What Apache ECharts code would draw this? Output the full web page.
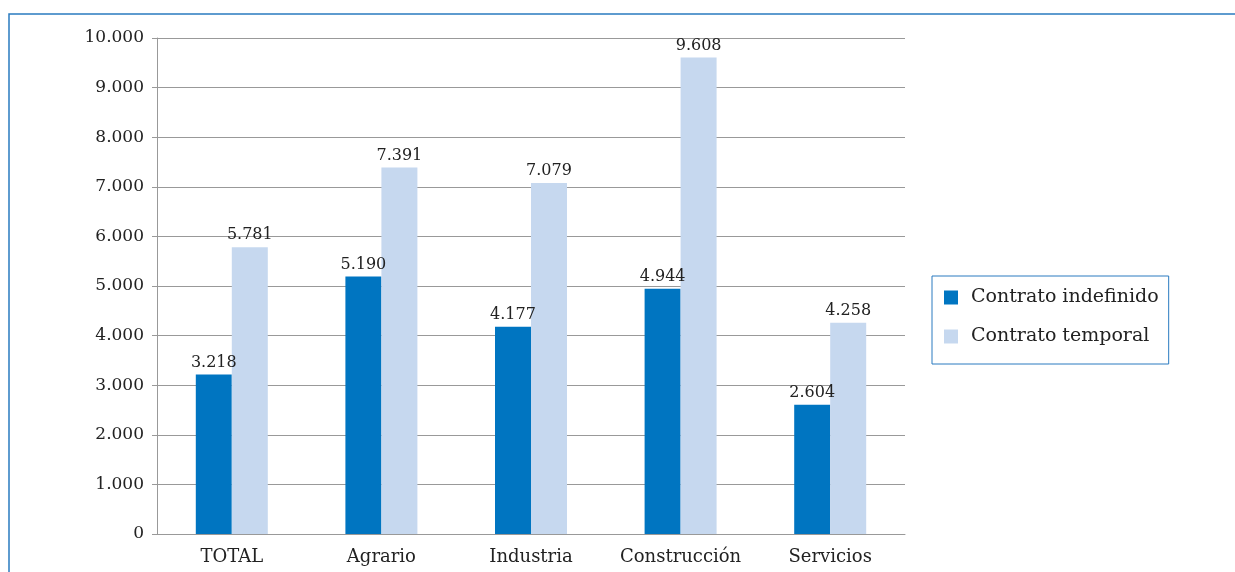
<!DOCTYPE html>
<html><head><meta charset="utf-8">
<script src="https://cdn.jsdelivr.net/npm/echarts@6/dist/echarts.min.js"></script>
<style>html,body{margin:0;padding:0;background:#fff}#c{width:1235px;height:572px}</style>
</head><body><div id="c"></div>
<script>
var categories = ['TOTAL','Agrario','Industria','Construcción','Servicios'];
var indefinido = [3218, 5190, 4177, 4944, 2604];
var temporal = [5781, 7391, 7079, 9608, 4258];
var seriesNames = ['Contrato indefinido','Contrato temporal'];
var yTicks = [0,1000,2000,3000,4000,5000,6000,7000,8000,9000,10000];

var FONT = 'DejaVu Serif';
function fmt(v){ return String(v).replace(/\B(?=(\d{3})+(?!\d))/g,'.'); }
var chart = echarts.init(document.getElementById('c'));
chart.setOption({
  animation:false,
  textStyle:{fontFamily:FONT},
  graphic:[{type:'rect',shape:{x:9,y:14,width:1300,height:700},style:{fill:'none',stroke:'#2a7bc0',lineWidth:1.5},silent:true}],
  grid:{left:157,right:330,top:38,bottom:38,containLabel:false},
  legend:{orient:'vertical',left:932,top:276,padding:[12,10,18,12],itemGap:20,itemWidth:14,itemHeight:14,
    borderColor:'#2a7bc0',borderWidth:1,icon:'rect',
    textStyle:{fontFamily:FONT,fontSize:19,color:'#222',padding:[0,0,0,8]}, data:seriesNames},
  xAxis:{type:'category',data:categories,axisTick:{show:false},
    axisLine:{lineStyle:{color:'#999',width:1}},
    axisLabel:{interval:0,fontFamily:FONT,fontSize:18,color:'#222',margin:14}},
  yAxis:{type:'value',min:yTicks[0],max:yTicks[yTicks.length-1],interval:1000,
    axisLine:{show:true,lineStyle:{color:'#999'}},
    axisTick:{show:true,length:5,lineStyle:{color:'#999'}},
    splitLine:{lineStyle:{color:'#999',width:1}},
    axisLabel:{fontFamily:FONT,fontSize:17,color:'#222',margin:13,formatter:function(v){return fmt(v);}}},
  series:[
    {name:seriesNames[0],type:'bar',data:indefinido,barWidth:36,barGap:'0%',itemStyle:{color:'#0075c1'},
      label:{show:true,position:'top',distance:4,fontFamily:FONT,fontSize:16,color:'#222',formatter:function(p){return fmt(p.value);}}},
    {name:seriesNames[1],type:'bar',data:temporal,barWidth:36,barGap:'0%',itemStyle:{color:'#c6d8ef'},
      label:{show:true,position:'top',distance:4,fontFamily:FONT,fontSize:16,color:'#222',formatter:function(p){return fmt(p.value);}}}
  ]
});
</script></body></html>
